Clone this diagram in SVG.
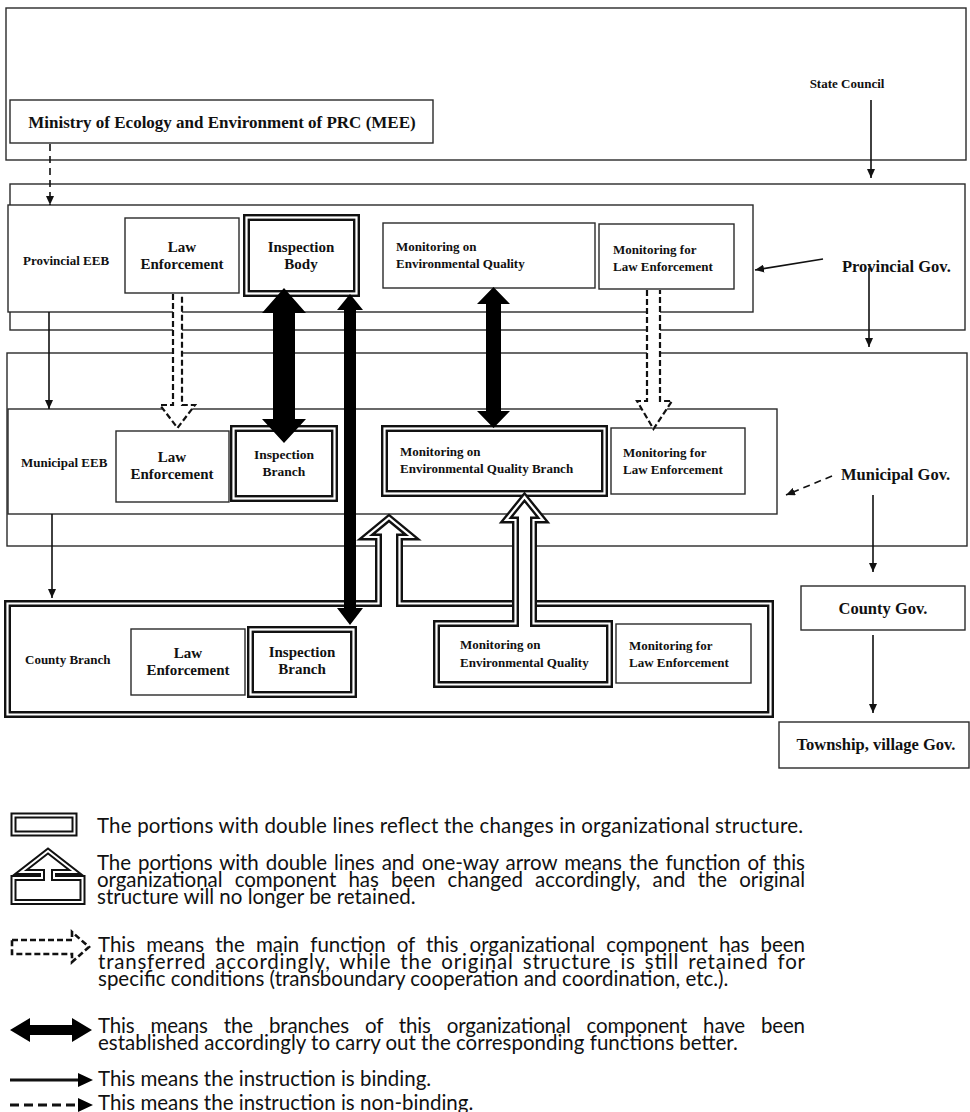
<svg xmlns="http://www.w3.org/2000/svg" width="970" height="1112" viewBox="0 0 970 1112">
<defs>
<style>
.box{fill:#fff;stroke:#2a2a2a;stroke-width:1.4}
.frame{fill:none;stroke:#2a2a2a;stroke-width:1.4}
.dbo{fill:#fff;stroke:#111;stroke-width:7;stroke-linejoin:miter}
.dbi{fill:none;stroke:#fff;stroke-width:2.2;stroke-linejoin:miter}
.t{font-family:"Liberation Serif","Times New Roman",serif;font-weight:bold;fill:#111}
.s13{font-size:13px}
.s135{font-size:13.5px}
.s15{font-size:15px}
.s16{font-size:16.5px}
.m{text-anchor:middle}
.con{fill:none;stroke:#111;stroke-width:1.6}
.dash{stroke-dasharray:7 5}
.blk{fill:#000}
.hol{fill:#fff;stroke:#111;stroke-width:2.2;stroke-dasharray:6 3}
.lg{font-family:Lato,"Open Sans","Liberation Sans",sans-serif;font-size:20.5px;fill:#111}
</style>
<marker id="ah" viewBox="0 0 9 8" refX="9" refY="4" markerWidth="9" markerHeight="8" markerUnits="userSpaceOnUse" orient="auto"><path d="M0,0L9,4L0,8z" fill="#111"/></marker>
</defs>
<rect x="0" y="0" width="970" height="1112" fill="#fff"/>

<g id="state-council">
<rect class="frame" x="6" y="8" width="960" height="152"/>
<text class="t s13 m" x="847" y="88">State Council</text>
</g>
<g id="mee">
<rect class="box" x="10" y="100" width="423" height="43"/>
<text class="t m" style="font-size:17px" x="222" y="128">Ministry of Ecology and Environment of PRC (MEE)</text>
</g>

<g id="provincial-gov">
<rect class="frame" x="10" y="184" width="955" height="146"/>
<text class="t s16" x="842" y="272">Provincial Gov.</text>
</g>
<g id="provincial-eeb">
<rect class="box" x="8" y="205" width="745" height="107"/>
<text class="t s13" x="23" y="265">Provincial EEB</text>
</g>
<g id="prov-law">
<rect class="box" x="125" y="218" width="114" height="75"/>
<text class="t s15 m" x="182" y="252">Law</text>
<text class="t s15 m" x="182" y="269">Enforcement</text>
</g>
<g id="prov-inspection">
<rect class="dbo" x="246.5" y="217.5" width="110" height="76"/>
<rect class="dbi" x="246.5" y="217.5" width="110" height="76"/>
<text class="t s15 m" x="301" y="252">Inspection</text>
<text class="t s15 m" x="301" y="269">Body</text>
</g>
<g id="prov-monitoring-quality">
<rect class="box" x="383" y="223" width="212" height="65"/>
<text class="t s13" x="396" y="251">Monitoring on</text>
<text class="t s13" x="396" y="268">Environmental Quality</text>
</g>
<g id="prov-monitoring-law">
<rect class="box" x="599" y="224" width="135" height="65"/>
<text class="t s13" x="613" y="254">Monitoring for</text>
<text class="t s13" x="613" y="271">Law Enforcement</text>
</g>

<g id="municipal-gov">
<rect class="frame" x="7" y="353" width="960" height="193"/>
<text class="t s16" x="841" y="480">Municipal Gov.</text>
</g>
<g id="municipal-eeb">
<rect class="box" x="8" y="409" width="769" height="105"/>
<text class="t s13" x="21" y="467">Municipal EEB</text>
</g>
<g id="mun-law">
<rect class="box" x="116" y="431" width="113" height="71"/>
<text class="t s15 m" x="172" y="462">Law</text>
<text class="t s15 m" x="172" y="479">Enforcement</text>
</g>
<g id="mun-inspection">
<rect class="dbo" x="233.5" y="428.5" width="101" height="70"/>
<rect class="dbi" x="233.5" y="428.5" width="101" height="70"/>
<text class="t s135 m" x="284" y="459">Inspection</text>
<text class="t s135 m" x="284" y="476">Branch</text>
</g>
<g id="mun-monitoring-quality">
<rect class="dbo" x="384.5" y="428.5" width="220" height="65"/>
<rect class="dbi" x="384.5" y="428.5" width="220" height="65"/>
<text class="t s13" x="400" y="456">Monitoring on</text>
<text class="t s13" x="400" y="473">Environmental Quality Branch</text>
</g>
<g id="mun-monitoring-law">
<rect class="box" x="611" y="428" width="134" height="66"/>
<text class="t s13" x="623" y="457">Monitoring for</text>
<text class="t s13" x="623" y="474">Law Enforcement</text>
</g>

<g id="county-gov">
<rect class="box" x="801" y="586" width="164" height="44"/>
<text class="t s16 m" x="883" y="614">County Gov.</text>
</g>
<g id="township-gov">
<rect class="box" x="779" y="722" width="190" height="46"/>
<text class="t s16 m" x="876" y="750">Township, village Gov.</text>
</g>

<g id="county-branch">
<path class="dbo" d="M7.5,603.5H378.5V537H366L389,518L412,537H399.5V603.5H770.5V714.5H7.5Z"/>
<path class="dbi" d="M7.5,603.5H378.5V537H366L389,518L412,537H399.5V603.5H770.5V714.5H7.5Z"/>
<text class="t s13" x="25" y="664">County Branch</text>
</g>
<g id="county-law">
<rect class="box" x="131" y="629" width="114" height="66"/>
<text class="t s15 m" x="188" y="658">Law</text>
<text class="t s15 m" x="188" y="675">Enforcement</text>
</g>
<g id="county-inspection">
<rect class="dbo" x="250.5" y="629.5" width="103" height="65"/>
<rect class="dbi" x="250.5" y="629.5" width="103" height="65"/>
<text class="t s15 m" x="302" y="657">Inspection</text>
<text class="t s15 m" x="302" y="674">Branch</text>
</g>
<g id="county-monitoring-quality">
<path class="dbo" d="M436.5,623.5H515.5V520H506L524.5,497L543,520H533.5V623.5H609.5V684.5H436.5Z"/>
<path class="dbi" d="M436.5,623.5H515.5V520H506L524.5,497L543,520H533.5V623.5H609.5V684.5H436.5Z"/>
<text class="t s13" x="460" y="649">Monitoring on</text>
<text class="t s13" x="460" y="667">Environmental Quality</text>
</g>
<g id="county-monitoring-law">
<rect class="box" x="616" y="624" width="135" height="59"/>
<text class="t s13" x="629" y="650">Monitoring for</text>
<text class="t s13" x="629" y="667">Law Enforcement</text>
</g>

<g id="connectors">
<polygon class="blk" points="284,288 306,313 295,313 295,419 306,419 284,443 262,419 273,419 273,313 262,313"/>
<polygon class="blk" points="350,294 363,310 356,310 356,608 363,608 350,625 337,608 344,608 344,310 337,310"/>
<polygon class="blk" points="493.5,287 510,304 501,304 501,411 510,411 493.5,428 477,411 486,411 486,304 477,304"/>
<path class="hol" d="M173,294V405H160L177.5,428L195,405H182V294"/>
<path class="hol" d="M647,290V401H637L653.5,429L672,401H660V290"/>
<line class="con dash" x1="50" y1="144" x2="50" y2="205" marker-end="url(#ah)"/>
<line class="con" x1="871" y1="100" x2="871" y2="178" marker-end="url(#ah)"/>
<line class="con" x1="823" y1="259" x2="755" y2="270" marker-end="url(#ah)"/>
<line class="con" x1="869" y1="268" x2="869" y2="347" marker-end="url(#ah)"/>
<line class="con" x1="49" y1="312" x2="49" y2="409" marker-end="url(#ah)"/>
<line class="con dash" x1="832" y1="476" x2="786" y2="495" marker-end="url(#ah)"/>
<line class="con" x1="873" y1="495" x2="873" y2="572" marker-end="url(#ah)"/>
<line class="con" x1="52" y1="514" x2="52" y2="598" marker-end="url(#ah)"/>
<line class="con" x1="873" y1="635" x2="873" y2="713" marker-end="url(#ah)"/>
</g>

<g id="legend">
<rect class="dbo" x="13.5" y="815.5" width="61" height="18" style="stroke-width:6"/>
<rect class="dbi" x="13.5" y="815.5" width="61" height="18" style="stroke-width:2"/>
<text class="lg" x="97" y="833" textLength="706" lengthAdjust="spacing">The portions with double lines reflect the changes in organizational structure.</text>

<path class="dbo" style="stroke-width:6" d="M13.5,878H42V872H21L48,851L75,872H54V878H82.5V902H13.5Z"/>
<path class="dbi" style="stroke-width:2" d="M13.5,878H42V872H21L48,851L75,872H54V878H82.5V902H13.5Z"/>
<text class="lg" x="97" y="870" style="word-spacing:2px" textLength="708" lengthAdjust="spacing">The portions with double lines and one-way arrow means the function of this</text>
<text class="lg" x="97" y="887" style="word-spacing:7px" textLength="708" lengthAdjust="spacing">organizational component has been changed accordingly, and the original</text>
<text class="lg" x="97" y="904">structure will no longer be retained.</text>

<path d="M12,940H72V932L89,947L72,962V954H12Z" fill="none" stroke="#111" stroke-width="2.6" stroke-dasharray="6 3"/>
<text class="lg" x="98" y="952" style="word-spacing:6px" textLength="707" lengthAdjust="spacing">This means the main function of this organizational component has been</text>
<text class="lg" x="98" y="969" style="word-spacing:3px" textLength="707" lengthAdjust="spacing">transferred accordingly, while the original structure is still retained for</text>
<text class="lg" x="98" y="986">specific conditions (transboundary cooperation and coordination, etc.).</text>

<polygon class="blk" points="10,1030 30,1018 30,1025 72,1025 72,1018 92,1030 72,1042 72,1035 30,1035 30,1042"/>
<text class="lg" x="98" y="1033" style="word-spacing:11px" textLength="707" lengthAdjust="spacing">This means the branches of this organizational component have been</text>
<text class="lg" x="98" y="1050">established accordingly to carry out the corresponding functions better.</text>

<line x1="10" y1="1080" x2="80" y2="1080" stroke="#111" stroke-width="3"/>
<polygon class="blk" points="78,1073 93,1080 78,1087"/>
<text class="lg" x="98" y="1086">This means the instruction is binding.</text>

<line x1="10" y1="1105" x2="80" y2="1105" stroke="#111" stroke-width="3" stroke-dasharray="9 5"/>
<polygon class="blk" points="78,1098 93,1105 78,1112"/>
<text class="lg" x="98" y="1110">This means the instruction is non-binding.</text>
</g>
</svg>
